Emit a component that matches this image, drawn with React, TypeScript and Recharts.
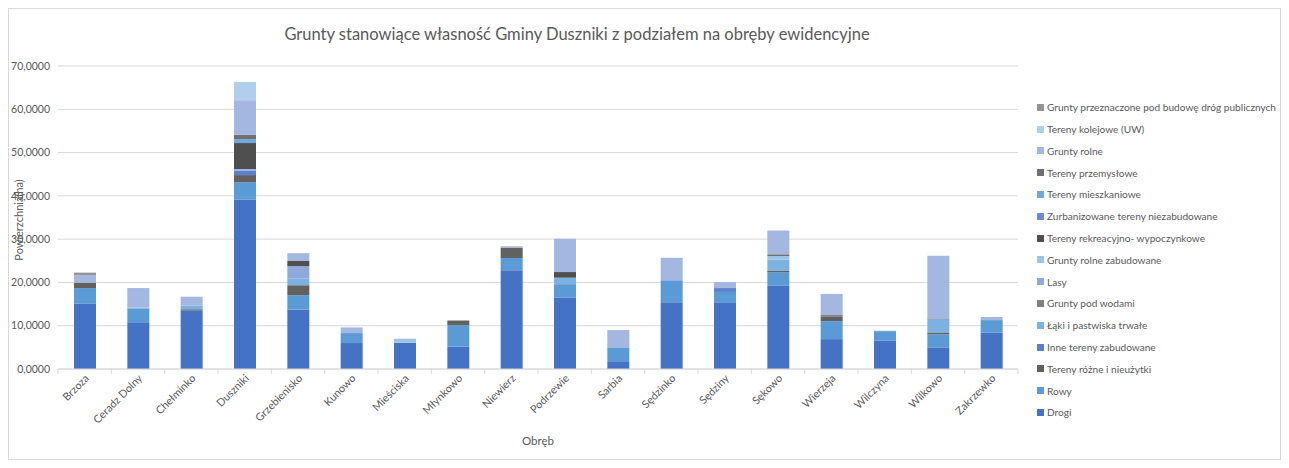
import React from 'react';
import { BarChart, Bar, XAxis, YAxis, CartesianGrid } from 'recharts';

const categories = ['Brzoza', 'Ceradz Dolny', 'Chełminko', 'Duszniki', 'Grzebienisko', 'Kunowo', 'Mieściska', 'Młynkowo', 'Niewierz', 'Podrzewie', 'Sarbia', 'Sędzinko', 'Sędziny', 'Sękowo', 'Wierzeja', 'Wilczyna', 'Wilkowo', 'Zakrzewko'];

const drogi = [15.06, 10.8, 13.5, 39.1, 13.75, 6.0, 6.07, 5.15, 22.8, 16.5, 1.8, 15.4, 15.4, 19.2, 6.9, 6.6, 5.0, 8.45];
const rowy = [3.64, 3.2, 0, 4.0, 3.3, 2.3, 0, 4.95, 2.85, 3.1, 3.2, 5.1, 2.4, 3.1, 4.15, 2.15, 3.0, 2.85];
const terenyRozne = [1.26, 0, 0.3, 1.7, 2.3, 0, 0, 1.1, 2.4, 0, 0, 0, 0, 0.35, 1.1, 0, 0.45, 0];
const inneZabudowane = [0, 0, 0, 1.0, 0, 0, 0, 0, 0, 0, 0, 0, 0.9, 0, 0, 0, 0, 0];
const laki = [0, 0.2, 0.9, 0.2, 1.6, 0, 0, 0, 0, 1.5, 0, 0, 0, 2.6, 0, 0, 3.0, 0];
const podWodami = [0, 0, 0, 0, 0, 0, 0, 0, 0, 0, 0, 0, 0, 0, 0, 0, 0, 0];
const lasy = [0, 0, 0, 0.2, 2.8, 0, 0, 0, 0, 0, 0, 0, 0, 0, 0, 0, 0, 0];
const rolneZabudowane = [0, 0, 0, 0, 0, 0, 0.93, 0, 0, 0, 0, 0, 0, 0.85, 0, 0, 0, 0];
const rekreacyjne = [0, 0, 0, 6.0, 1.2, 0, 0, 0, 0, 1.3, 0, 0, 0, 0, 0, 0, 0, 0];
const zurbanizowane = [0, 0, 0, 0, 0, 0, 0, 0, 0, 0, 0, 0, 0, 0, 0, 0, 0, 0];
const mieszkaniowe = [0, 0, 0, 0.9, 0, 0, 0, 0, 0, 0, 0, 0, 0, 0, 0, 0, 0, 0];
const przemyslowe = [0, 0, 0, 1.0, 0, 0, 0, 0, 0, 0, 0, 0, 0, 0.4, 0.3, 0, 0.1, 0];
const gruntyRolne = [1.7, 4.5, 2.0, 8.0, 1.8, 1.3, 0, 0, 0.3, 7.7, 4.0, 5.2, 1.4, 5.5, 4.9, 0.1, 14.6, 0.7];
const kolejowe = [0, 0, 0, 4.2, 0, 0, 0, 0, 0, 0, 0, 0, 0, 0, 0, 0, 0, 0];
const przeznaczone = [0.6, 0, 0, 0, 0, 0, 0, 0, 0, 0, 0, 0, 0, 0, 0, 0, 0, 0];

const yTicks = [0, 10, 20, 30, 40, 50, 60, 70];

const series = [
  { key: 'drogi', name: 'Drogi', values: drogi, color: '#4472C4' },
  { key: 'rowy', name: 'Rowy', values: rowy, color: '#5B9BD5' },
  { key: 'rozne', name: 'Tereny różne i nieużytki', values: terenyRozne, color: '#616161' },
  { key: 'inne', name: 'Inne tereny zabudowane', values: inneZabudowane, color: '#5B80CC' },
  { key: 'laki', name: 'Łąki i pastwiska trwałe', values: laki, color: '#7DB1E2' },
  { key: 'wody', name: 'Grunty pod wodami', values: podWodami, color: '#808080' },
  { key: 'lasy', name: 'Lasy', values: lasy, color: '#8FA9DC' },
  { key: 'rolneZab', name: 'Grunty rolne zabudowane', values: rolneZabudowane, color: '#9DC3E6' },
  { key: 'rekr', name: 'Tereny rekreacyjno- wypoczynkowe', values: rekreacyjne, color: '#4F4F4F' },
  { key: 'zurb', name: 'Zurbanizowane tereny niezabudowane', values: zurbanizowane, color: '#6C8CD2' },
  { key: 'mieszk', name: 'Tereny mieszkaniowe', values: mieszkaniowe, color: '#6FA8DE' },
  { key: 'przem', name: 'Tereny przemysłowe', values: przemyslowe, color: '#707070' },
  { key: 'rolne', name: 'Grunty rolne', values: gruntyRolne, color: '#A3B7E1' },
  { key: 'kolej', name: 'Tereny kolejowe (UW)', values: kolejowe, color: '#B1CFEC' },
  { key: 'przezn', name: 'Grunty przeznaczone pod budowę dróg publicznych', values: przeznaczone, color: '#939393' },
];

const data = categories.map((c, i) => {
  const row: Record<string, string | number> = { name: c };
  series.forEach((s) => { row[s.key] = s.values[i]; });
  return row;
});

const FONT = 'Lato, "Open Sans", sans-serif';
const TXT = '#595959';
const W = 1273;
const H = 452;
const M = { top: 58, right: 263, left: 0, bottom: 7 };
const YW = 50;
const PLOT_W = W - M.left - M.right - YW;
const BAND = PLOT_W / categories.length;

const XTick = (props: any) => {
  const { x, y, payload, index } = props;
  const last = index === categories.length - 1;
  return (
    <g>
      <line x1={x - BAND / 2} x2={x - BAND / 2} y1={y} y2={y + 5} stroke="#d9d9d9" />
      {last && <line x1={x + BAND / 2} x2={x + BAND / 2} y1={y} y2={y + 5} stroke="#d9d9d9" />}
      <g transform={`translate(${x + 5},${y + 10})`}>
        <text x={0} y={0} textAnchor="end" transform="rotate(-45)" fontSize={10.8} fill={TXT} fontFamily={FONT}>
          {payload.value}
        </text>
      </g>
    </g>
  );
};

const fmt = (v: number) => v.toFixed(4).replace('.', ',');

export default function App() {
  const legendItems = [...series].reverse();
  return (
    <div style={{ position: 'relative', width: W, height: H, fontFamily: FONT, background: '#fff' }}>
      <div style={{ position: 'absolute', left: 0, top: 0, width: W - 2, height: H - 2, border: '1px solid #d9d9d9', pointerEvents: 'none' }} />
      <div style={{ position: 'absolute', left: 0, top: 16, width: 1138, textAlign: 'center', fontSize: 16.5, color: TXT, lineHeight: '20px' }}>
        Grunty stanowiące własność Gminy Duszniki z podziałem na obręby ewidencyjne
      </div>
      <BarChart width={W} height={H} data={data} margin={M} barSize={22}>
        <CartesianGrid vertical={false} stroke="#d9d9d9" />
        <XAxis dataKey="name" interval={0} tickLine={false} tickSize={0} tickMargin={0} axisLine={{ stroke: '#d9d9d9' }} tick={<XTick />} height={84} />
        <YAxis width={YW} domain={[0, 70]} ticks={yTicks} tickFormatter={fmt} axisLine={false} tickLine={false} tick={{ fontSize: 10.5, fill: TXT, fontFamily: FONT }} />
        {series.map((s) => (
          <Bar key={s.key} dataKey={s.key} name={s.name} stackId="a" fill={s.color} isAnimationActive={false} />
        ))}
      </BarChart>
      <div style={{ position: 'absolute', left: -89, top: 205, width: 200, height: 14, lineHeight: '14px', textAlign: 'center', transform: 'rotate(-90deg)', fontSize: 11, color: TXT }}>
        Powierzchnia(ha)
      </div>
      <div style={{ position: 'absolute', left: 430, top: 425, width: 200, textAlign: 'center', fontSize: 11.5, color: TXT, lineHeight: '16px' }}>
        Obręb
      </div>
      <div style={{ position: 'absolute', left: 1029, top: 88.4 }}>
        {legendItems.map((s) => (
          <div key={s.key} style={{ height: 21.8, display: 'flex', alignItems: 'center', fontSize: 10.1, color: TXT, whiteSpace: 'nowrap' }}>
            <span style={{ display: 'inline-block', width: 7, height: 7, background: s.color, marginRight: 3 }} />
            {s.name}
          </div>
        ))}
      </div>
    </div>
  );
}
